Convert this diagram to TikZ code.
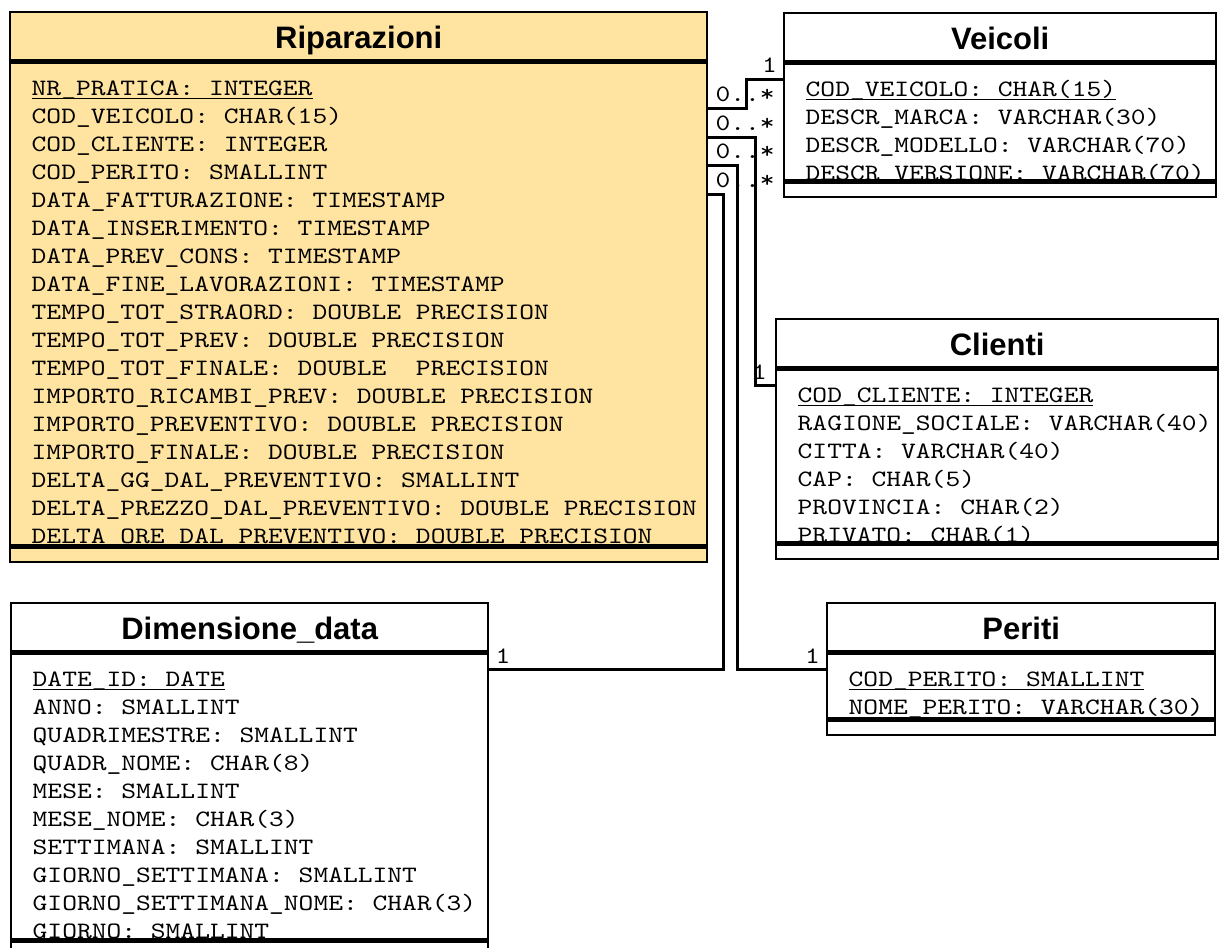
\documentclass[tikz,border=0pt]{standalone}
\usepackage{fontspec}
\usetikzlibrary{positioning,calc}
\usepackage{xcolor}

\newfontfamily\attrfont[FakeStretch=1.2]{lmmono10-regular.otf}
\newfontfamily\titlefont{Liberation Sans}
\definecolor{ripfill}{RGB}{255,227,160}
\newcommand{\keyattr}[1]{\setbox0=\hbox{#1}\rlap{\rule[-1.6pt]{\wd0}{0.6pt}}\box0}
\newcommand{\attrsize}{\fontsize{11.73}{14}\selectfont\fontdimen2\font=7.39pt\fontdimen3\font=0pt\fontdimen4\font=0pt}
\hyphenpenalty=10000
\exhyphenpenalty=10000

\begin{document}
\begin{tikzpicture}[
      x=0.5pt, y=0.5pt,
      node distance=0pt,
      clsname/.style={draw, line width=1.2pt, inner sep=0pt, minimum width=#1, minimum height=24pt, text height=18pt, text depth=6pt, font=\titlefont\bfseries\fontsize{15.5}{18}\selectfont},
      clsattrs/.style={draw, line width=1.2pt, inner ysep=0pt, inner xsep=10.75pt, align=flush left, text height=16.5pt, font=\attrfont\attrsize},
      clsops/.style={draw, line width=1.2pt, inner sep=0pt, minimum width=#1, minimum height=7pt},
      mult/.style={inner sep=0pt, font=\attrfont\attrsize},
      rel/.style={line width=1.2pt}
  ]
    \path[use as bounding box, fill=white] (0,0) rectangle (1219,-947);

    % fact table
    \node[clsname=348.5pt, fill=ripfill, anchor=north west] (rip) at (9,-11) {Riparazioni};
    \node[clsattrs, fill=ripfill, text width=327pt, text depth=225pt, below=of rip] (ripbody) {%
      \spaceskip=0pt\xspaceskip=0pt
      \keyattr{NR\_PRATICA:~INTEGER}\\
      COD\_VEICOLO:~CHAR(15)\\
      COD\_CLIENTE:~INTEGER\\
      COD\_PERITO:~SMALLINT\\
      DATA\_FATTURAZIONE:~TIMESTAMP\\
      DATA\_INSERIMENTO:~TIMESTAMP\\
      DATA\_PREV\_CONS:~TIMESTAMP\\
      DATA\_FINE\_LAVORAZIONI:~TIMESTAMP\\
      TEMPO\_TOT\_STRAORD:~DOUBLE~PRECISION\\
      TEMPO\_TOT\_PREV:~DOUBLE~PRECISION\\
      TEMPO\_TOT\_FINALE:~DOUBLE~~PRECISION\\
      IMPORTO\_RICAMBI\_PREV:~DOUBLE~PRECISION\\
      IMPORTO\_PREVENTIVO:~DOUBLE~PRECISION\\
      IMPORTO\_FINALE:~DOUBLE~PRECISION\\
      DELTA\_GG\_DAL\_PREVENTIVO:~SMALLINT\\
      DELTA\_PREZZO\_DAL\_PREVENTIVO:~DOUBLE~PRECISION\\
      DELTA\_ORE\_DAL\_PREVENTIVO:~DOUBLE~PRECISION};
    \node[clsops=348.5pt, fill=ripfill, below=of ripbody] (ripops) {};

    % dimensions
    \node[clsname=216pt, anchor=north west] (vei) at (783,-12) {Veicoli};
    \node[clsattrs, text width=194.5pt, text depth=42pt, below=of vei] (veibody) {%
      \spaceskip=0pt\xspaceskip=0pt
      \keyattr{COD\_VEICOLO:~CHAR(15)}\\
      DESCR\_MARCA:~VARCHAR(30)\\
      DESCR\_MODELLO:~VARCHAR(70)\\
      DESCR\_VERSIONE:~VARCHAR(70)};
    \node[clsops=216pt, below=of veibody] (veiops) {};

    \node[clsname=221pt, anchor=north west] (cli) at (775,-318) {Clienti};
    \node[clsattrs, text width=199.5pt, text depth=70pt, below=of cli] (clibody) {%
      \spaceskip=0pt\xspaceskip=0pt
      \keyattr{COD\_CLIENTE:~INTEGER}\\
      RAGIONE\_SOCIALE:~VARCHAR(40)\\
      CITTA:~VARCHAR(40)\\
      CAP:~CHAR(5)\\
      PROVINCIA:~CHAR(2)\\
      PRIVATO:~CHAR(1)};
    \node[clsops=221pt, below=of clibody] (cliops) {};

    \node[clsname=194pt, anchor=north west] (per) at (826,-602) {Periti};
    \node[clsattrs, text width=172.5pt, text depth=16pt, below=of per] (perbody) {%
      \spaceskip=0pt\xspaceskip=0pt
      \keyattr{COD\_PERITO:~SMALLINT}\\
      NOME\_PERITO:~VARCHAR(30)};
    \node[clsops=194pt, below=of perbody] (perops) {};

    \node[clsname=238.5pt, anchor=north west] (dim) at (10,-602) {Dimensione\_data};
    \node[clsattrs, text width=217pt, text depth=126.5pt, below=of dim] (dimbody) {%
      \spaceskip=0pt\xspaceskip=0pt
      \keyattr{DATE\_ID:~DATE}\\
      ANNO:~SMALLINT\\
      QUADRIMESTRE:~SMALLINT\\
      QUADR\_NOME:~CHAR(8)\\
      MESE:~SMALLINT\\
      MESE\_NOME:~CHAR(3)\\
      SETTIMANA:~SMALLINT\\
      GIORNO\_SETTIMANA:~SMALLINT\\
      GIORNO\_SETTIMANA\_NOME:~CHAR(3)\\
      GIORNO:~SMALLINT};
    \node[clsops=238.5pt, below=of dimbody] (dimops) {};

    % associations
    \draw[rel] ([yshift=-23.5pt]ripbody.north east) node[mult, anchor=base west, xshift=3pt, yshift=3.5pt] (mvei) {0..*}
      -- ++(38,0) |- ([yshift=-8.5pt]veibody.north west) node[mult, anchor=base east, xshift=-2.5pt, yshift=3.5pt] (nvei) {1};
    \draw[rel] ([yshift=-38pt]ripbody.north east) node[mult, anchor=base west, xshift=3pt, yshift=3.5pt] (mcli) {0..*}
      -- ++(47,0) |- ([yshift=-8.5pt]clibody.north west) node[mult, anchor=base east, xshift=-3.5pt, yshift=3pt] (ncli) {1};
    \draw[rel] ([yshift=-52pt]ripbody.north east) node[mult, anchor=base west, xshift=3pt, yshift=3.5pt] (mper) {0..*}
      -- ++(29,0) |- ([yshift=-8.5pt]perbody.north west) node[mult, anchor=base east, xshift=-2.5pt, yshift=3pt] (nper) {1};
    \draw[rel] ([yshift=-66.5pt]ripbody.north east) node[mult, anchor=base west, xshift=3pt, yshift=3.5pt] (mdim) {0..*}
      -- ++(15,0) |- ([yshift=-8.5pt]dimbody.north east) node[mult, anchor=base west, xshift=2.5pt, yshift=3pt] (ndim) {1};
  \end{tikzpicture}
\end{document}
